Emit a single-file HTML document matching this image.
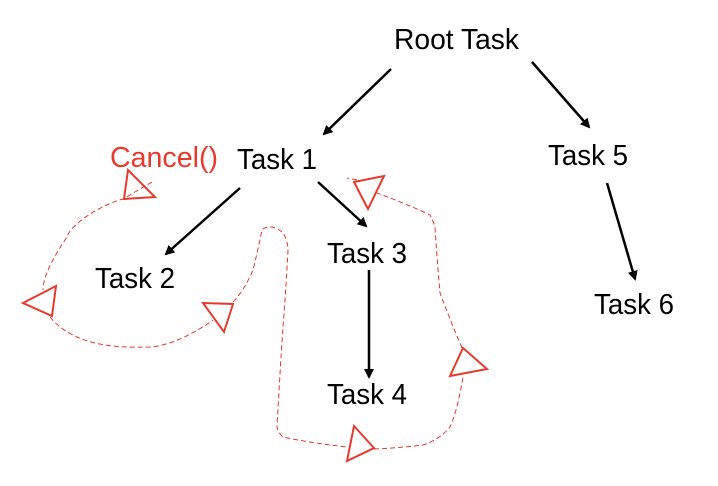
<!DOCTYPE html>
<html><head><meta charset="utf-8"><style>html,body{margin:0;padding:0;background:#fff}svg{display:block}</style></head>
<body>
<svg width="718" height="486" viewBox="0 0 718 486" xmlns="http://www.w3.org/2000/svg" font-family="Liberation Sans, sans-serif" font-size="29">
<defs>
<marker id="a" markerWidth="10" markerHeight="10" refX="8" refY="5" orient="auto" markerUnits="userSpaceOnUse"><path d="M0,0 L10,5 L0,10 z" fill="#000"/></marker>
</defs>
<g fill="#000">
<text x="394" y="49" textLength="125" lengthAdjust="spacingAndGlyphs">Root Task</text>
<text x="237" y="169" textLength="80" lengthAdjust="spacingAndGlyphs">Task 1</text>
<text x="548" y="165" textLength="80" lengthAdjust="spacingAndGlyphs">Task 5</text>
<text x="95" y="288" textLength="80" lengthAdjust="spacingAndGlyphs">Task 2</text>
<text x="327" y="263" textLength="80" lengthAdjust="spacingAndGlyphs">Task 3</text>
<text x="594" y="314" textLength="80" lengthAdjust="spacingAndGlyphs">Task 6</text>
<text x="327" y="404" textLength="80" lengthAdjust="spacingAndGlyphs">Task 4</text>
</g>
<text x="110" y="167" fill="#e53a2c" textLength="108" lengthAdjust="spacingAndGlyphs">Cancel()</text>
<g stroke="#000" stroke-width="2.5" marker-end="url(#a)">
<line x1="391" y1="69" x2="324" y2="134"/>
<line x1="532" y1="62" x2="589" y2="127"/>
<line x1="240" y1="188" x2="166" y2="254"/>
<line x1="318" y1="182" x2="366" y2="226"/>
<line x1="369" y1="270" x2="369" y2="377"/>
<line x1="607" y1="183" x2="635" y2="279"/>
</g>
<g fill="none" stroke="#e53a2c" stroke-width="1" stroke-dasharray="5,3">
<path d="M152,182 L123,199 C100,205 70,225 67,237 C55,255 43,275 43,290 M50,317 C60,330 77,337 77,337 C95,345 117,348 150,347 C180,345 213,320 213,320 M233,302 C245,290 253,270 253,270 C258,250 262,230 262,230 C265,226 272,227 272,227 C278,228 283,233 283,233 C288,240 288,250 288,250 C286,290 283,327 283,327 C280,370 277,427 277,427 C278,433 283,437 283,437 C310,443 347,447 347,447 M374,449 C400,448 423,445 423,445 C440,440 450,427 450,427 C458,410 463,377 463,377 M462,348 C450,320 440,293 440,293 C437,260 435,227 435,227 C433,220 430,215 430,215 C410,205 377,193 377,193 M357,180 L347,178"/>
</g>
<g fill="none" stroke="#e53a2c" stroke-width="2">
<polygon points="128,170 124,199 155,197"/>
<polygon points="23,303 56,286 52,316"/>
<polygon points="203,303 233,304 224,332"/>
<polygon points="354,182 384,176 368,209"/>
<polygon points="463,348 487,369 450,376"/>
<polygon points="354,426 374,448 347,461"/>
</g>
</svg>
</body></html>
